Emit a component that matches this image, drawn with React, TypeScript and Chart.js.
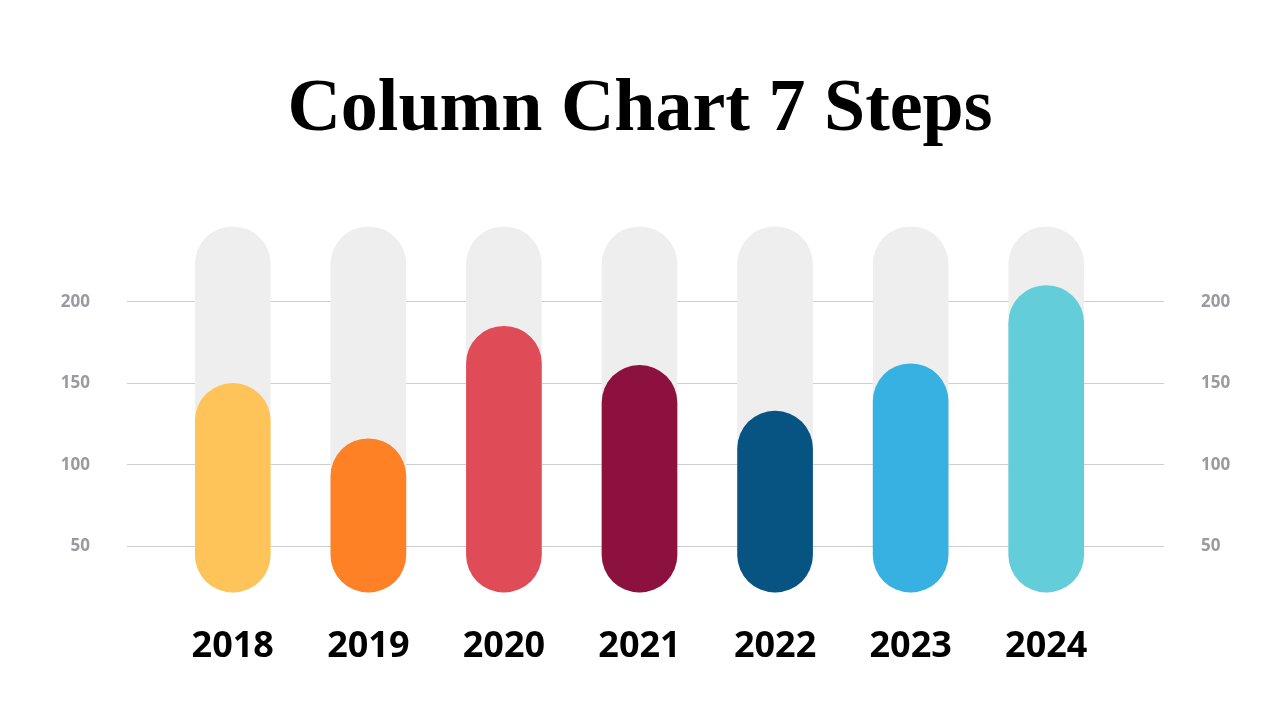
import { useEffect, useRef } from "react"
import { Chart, registerables } from "chart.js"

Chart.register(...registerables)

const years = ["2018", "2019", "2020", "2021", "2022", "2023", "2024"]
const values = [150, 116, 185, 161, 133, 162, 210]
const colors = ["#FEC45A", "#FE8126", "#E04B58", "#8C113F", "#075482", "#36B1E2", "#63CED9"]
const BASE = 22
const TRACK_TOP = 246
const tickValues = [50, 100, 150, 200]

export default function App() {
  const chartRef = useRef<HTMLCanvasElement>(null)
  const chartInstance = useRef<Chart | null>(null)

  useEffect(() => {
    if (!chartRef.current) return
    if (chartInstance.current) chartInstance.current.destroy()

    const keepTicks = (scale: any) => {
      scale.ticks = scale.ticks.filter((t: any) => tickValues.includes(t.value))
    }
    const tickFont = { family: "'Open Sans', sans-serif", size: 17, weight: "bold" as const }

    chartInstance.current = new Chart(chartRef.current, {
      type: "bar",
      data: {
        labels: years,
        datasets: [
          {
            label: "Value",
            data: values.map((v) => [BASE, v]),
            backgroundColor: colors,
            barThickness: 75,
            borderRadius: 40,
            borderSkipped: false,
            grouped: false,
            order: 0,
          },
          {
            label: "Track",
            data: years.map(() => [BASE, TRACK_TOP]),
            backgroundColor: "#EEEEEE",
            barThickness: 75,
            borderRadius: 40,
            borderSkipped: false,
            grouped: false,
            order: 1,
          },
        ],
      },
      options: {
        responsive: true,
        maintainAspectRatio: false,
        animation: false,
        layout: { padding: { left: 0, right: 0, top: 0, bottom: 54 } },
        plugins: {
          legend: { display: false },
          tooltip: { enabled: false },
          title: {
            display: true,
            text: "Column Chart 7 Steps",
            color: "#000000",
            font: { family: "'Liberation Serif', serif", size: 74, weight: "bold", lineHeight: 1.2 },
            padding: { top: 66, bottom: 65.5 },
          },
        },
        scales: {
          x: {
            grid: { display: false, drawTicks: false },
            border: { display: false },
            ticks: {
              color: "#000000",
              padding: 1,
              font: { family: "'Open Sans', sans-serif", size: 36, weight: "bold", lineHeight: 1 },
            },
          },
          y: {
            position: "left",
            min: 0,
            max: 250,
            afterBuildTicks: keepTicks,
            afterFit: (scale: any) => {
              scale.width = 165
            },
            grid: { color: "#CFCFCF", lineWidth: 1, tickLength: 38 },
            border: { display: false },
            ticks: { stepSize: 50, color: "#9A9AA2", padding: 37, font: tickFont },
          },
          y2: {
            position: "right",
            min: 0,
            max: 250,
            afterBuildTicks: keepTicks,
            afterFit: (scale: any) => {
              scale.width = 166
            },
            grid: { color: "#CFCFCF", lineWidth: 1, tickLength: 50, drawOnChartArea: false },
            border: { display: false },
            ticks: { stepSize: 50, color: "#9A9AA2", padding: 37, font: tickFont },
          },
        },
      },
    })

    return () => {
      if (chartInstance.current) {
        chartInstance.current.destroy()
        chartInstance.current = null
      }
    }
  }, [])

  return (
    <div style={{ position: "fixed", left: 0, top: 0, width: 1280, height: 720, background: "#FFFFFF" }}>
      <canvas ref={chartRef} />
    </div>
  )
}
